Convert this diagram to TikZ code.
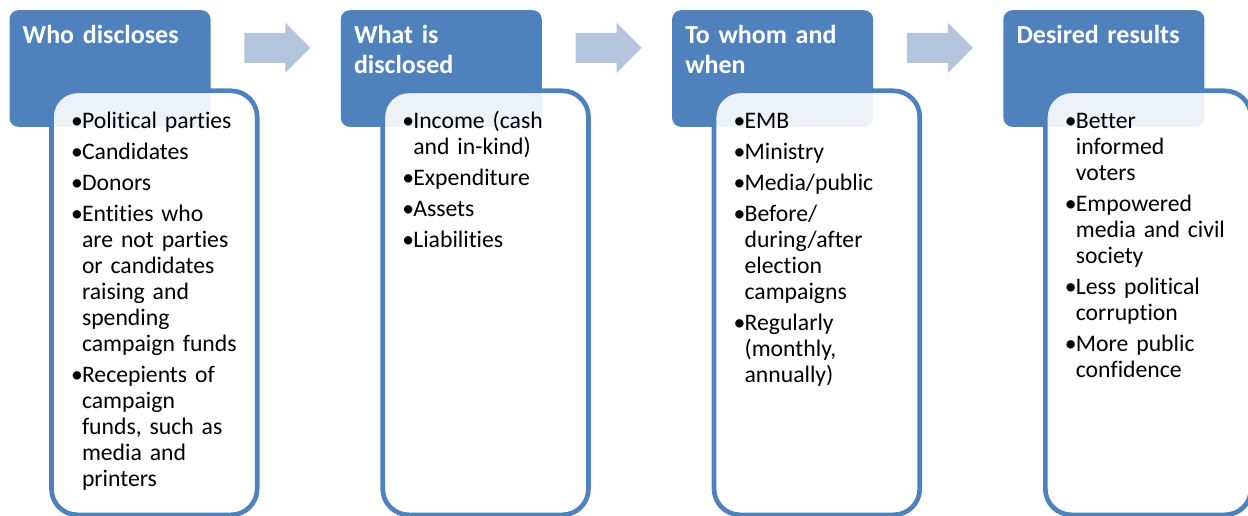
\documentclass[tikz,border=0pt]{standalone}
\usepackage{fontspec}
\setmainfont{Carlito}[Ligatures={NoCommon}]
\definecolor{hdrblue}{RGB}{79,129,189}
\definecolor{arrowblue}{RGB}{180,196,222}
\newcommand{\bitem}[1]{\hangindent=11pt\hangafter=1\noindent\makebox[11pt][l]{•}#1\par}
\tikzset{
  hdrbox/.style={draw=none,fill=hdrblue,rounded corners=9pt,minimum width=201pt,minimum height=116.7pt,inner sep=0pt,anchor=north west},
  listbox/.style={draw=hdrblue,line width=4.7pt,fill=white,fill opacity=0.9,rounded corners=26pt,minimum width=205.7pt,minimum height=424pt,inner sep=0pt,anchor=north west},
  hdrtext/.style={anchor=base west,inner sep=0pt,text=white,text width=190pt,font=\fontsize{26}{30}\selectfont\bfseries},
  bodytext/.style={anchor=base west,inner sep=0pt,text=black,text width=200pt,font=\fontsize{23.7}{26}\selectfont},
  blockarrow/.style={fill=arrowblue,draw=none}
}
\begin{document}
\begin{tikzpicture}[x=1pt,y=-1pt]
\useasboundingbox (0,0) rectangle (1248,516);
% header boxes
\node[hdrbox] (h1) at (9.3,10) {};
\node[hdrbox] (h2) at (340.6,10) {};
\node[hdrbox] (h3) at (671.9,10) {};
\node[hdrbox] (h4) at (1003.2,10) {};
% list boxes
\node[listbox] (l1) at (49.1,88.5) {};
\node[listbox] (l2) at (380.4,88.5) {};
\node[listbox] (l3) at (711.7,88.5) {};
\node[listbox] (l4) at (1043.0,88.5) {};
% arrows
\fill[blockarrow] (244.3,33) -- (285.3,33) -- (285.3,22.7) -- (310.3,47.8) -- (285.3,72.9) -- (285.3,63) -- (244.3,63) -- cycle;
\fill[blockarrow] (575.6,33) -- (616.6,33) -- (616.6,22.7) -- (641.6,47.8) -- (616.6,72.9) -- (616.6,63) -- (575.6,63) -- cycle;
\fill[blockarrow] (906.9,33) -- (947.9,33) -- (947.9,22.7) -- (972.9,47.8) -- (947.9,72.9) -- (947.9,63) -- (906.9,63) -- cycle;
% headings
\node[hdrtext] (ht1) at (22.5,43.5) {Who discloses};
\node[hdrtext] (ht2) at (353.8,43.5) {What is\\disclosed};
\node[hdrtext] (ht3) at (685.1,43.5) {To whom and\\when};
\node[hdrtext] (ht4) at (1016.4,43.5) {Desired results};
% lists
\node[bodytext] (b1) at (70.8,128.5) {\setlength{\parskip}{5pt}%
\bitem{Political parties}%
\bitem{Candidates}%
\bitem{Donors}%
\bitem{Entities who\newline are not parties\newline or candidates\newline raising and\newline spending\newline campaign funds}%
\bitem{Recepients of\newline campaign\newline funds, such as\newline media and\newline printers}};
\node[bodytext] (b2) at (402.1,128.5) {\setlength{\parskip}{5pt}%
\bitem{Income (cash\newline and in-kind)}%
\bitem{Expenditure}%
\bitem{Assets}%
\bitem{Liabilities}};
\node[bodytext] (b3) at (733.4,128.5) {\setlength{\parskip}{5pt}%
\bitem{EMB}%
\bitem{Ministry}%
\bitem{Media/public}%
\bitem{Before/\newline during/after\newline election\newline campaigns}%
\bitem{Regularly\newline (monthly,\newline annually)}};
\node[bodytext] (b4) at (1064.7,128.5) {\setlength{\parskip}{5pt}%
\bitem{Better\newline informed\newline voters}%
\bitem{Empowered\newline media and civil\newline society}%
\bitem{Less political\newline corruption}%
\bitem{More public\newline confidence}};
\end{tikzpicture}
\end{document}
